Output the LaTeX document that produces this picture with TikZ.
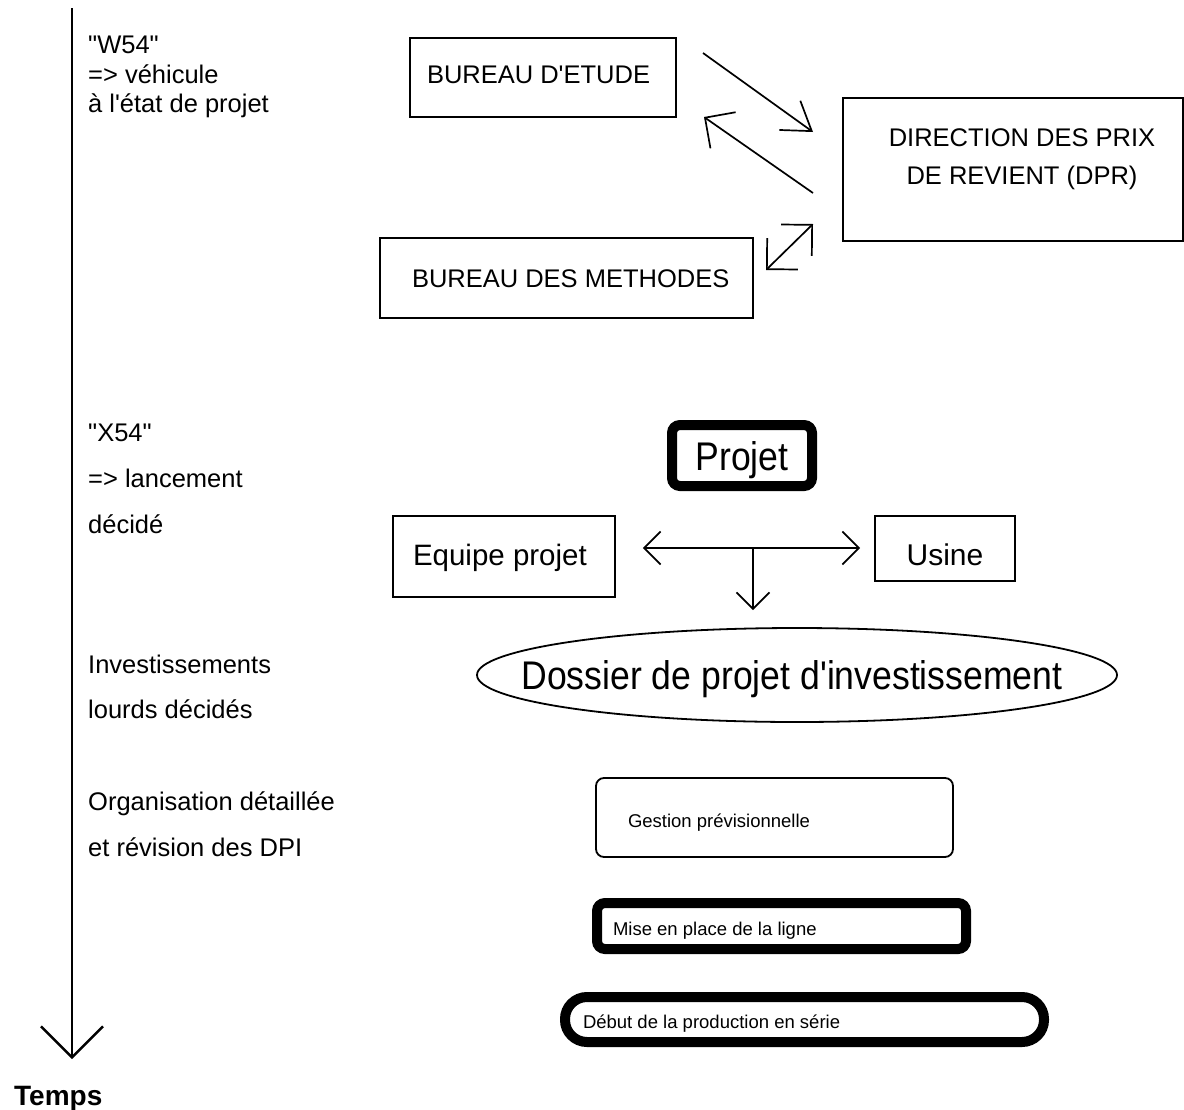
\documentclass[tikz,border=0pt]{standalone}
\usepackage{fontspec}
\setmainfont{Liberation Sans}[Ligatures=TeXOff]
\usepackage{graphicx}
\usetikzlibrary{arrows.meta,shapes.geometric,calc}
\newcommand\myfs[2]{\fontsize{#1}{#2}\selectfont}
\tikzset{
  box/.style={draw, rectangle, line width=1.8pt, inner ysep=0pt, align=flush left},
  heavybox/.style={draw, rectangle, line width=10pt, rounded corners=8pt, inner ysep=0pt, align=flush left},
  lefttext/.style={anchor=base west, inner sep=0pt, font=\myfs{25.5}{30}},
  conn/.style={line width=1.7pt},
  barbA/.style={conn, -{Straight Barb[length=27pt,width=36pt]}},
  barbB/.style={conn, -{Straight Barb[length=22pt,width=44pt]}},
  barbBB/.style={conn, {Straight Barb[length=22pt,width=44pt]}-{Straight Barb[length=22pt,width=44pt]}},
  barbS/.style={conn, -{Straight Barb[length=16.5pt,width=33pt]}},
  barbSS/.style={conn, {Straight Barb[length=16.5pt,width=33pt]}-{Straight Barb[length=16.5pt,width=33pt]}},
}
\begin{document}
\begin{tikzpicture}[x=1pt,y=-1pt]
\useasboundingbox (0,0) rectangle (1184,1109);

% time axis
\coordinate (tltop) at (72,8);
\coordinate (tlend) at (72,1059);
\draw[line width=2.4pt, -{Straight Barb[length=31pt,width=62pt]}] (tltop) -- (tlend);
\node[anchor=base west, inner sep=0pt, font=\myfs{28}{30}\bfseries] (temps) at (14,1105) {Temps};

% left texts
\node[lefttext] (w1) at (88,53) {"W54"};
\node[lefttext] (w2) at (88,83) {=> véhicule};
\node[lefttext] (w3) at (88,112) {à l'état de projet};
\node[lefttext] (x1) at (88,441) {"X54"};
\node[lefttext] (x2) at (88,487) {=> lancement};
\node[lefttext] (x3) at (88,533) {décidé};
\node[lefttext] (i1) at (88,673) {Investissements};
\node[lefttext] (i2) at (88,718) {lourds décidés};
\node[lefttext] (o1) at (88,810) {Organisation détaillée};
\node[lefttext] (o2) at (88,856) {et révision des DPI};

% top boxes
\node[box, minimum width=266, minimum height=79, inner xsep=17, text width=232,
      text height=18, text depth=7, font=\myfs{25.5}{30}] (be) at (543,77.5) {\mbox{BUREAU D'ETUDE}};
\node[box, minimum width=373, minimum height=80, inner xsep=32, text width=309,
      text height=18, text depth=0, font=\myfs{25.5}{30}] (bm) at (566.5,278) {\mbox{BUREAU DES METHODES}};
\node[box, minimum width=340, minimum height=143, align=center, text depth=25,
      font=\myfs{25.5}{38}] (dpr) at (1013,169.5)
      {\hspace*{18pt}DIRECTION DES PRIX\\\hspace*{18pt}DE REVIENT (DPR)};

\coordinate (a1s) at (703,53);
\coordinate (a1e) at (813,132);
\coordinate (a2s) at (813,193);
\coordinate (a2e) at (704,117);
\coordinate (a3s) at (766,270);
\coordinate (a3e) at (813,224);
\draw[barbA] (a1s) -- (a1e);
\draw[barbB] (a2s) -- (a2e);
\draw[barbBB] (a3s) -- (a3e);

% projet
\node[heavybox, minimum width=140, minimum height=61, inner xsep=0pt, align=center,
      text height=30, text depth=0, font=\myfs{40}{42}] (projet) at (742,455.5)
      {\scalebox{0.89}[1]{Projet}};
\node[box, minimum width=222, minimum height=81, inner xsep=20, text width=182,
      text height=21, text depth=4, font=\myfs{29.5}{32}] (equipe) at (504,556.5) {\mbox{Equipe projet}};
\node[box, minimum width=140, minimum height=65, inner xsep=0pt, align=center,
      text height=33, text depth=0, font=\myfs{30}{32}] (usine) at (945,548.5) {Usine};

\node[draw, ellipse, line width=1.8pt, minimum width=640, minimum height=94, inner sep=0pt,
      text height=28.6, text depth=0, font=\myfs{40}{42}] (dossier) at (797,675)
      {\makebox[0pt][c]{\hspace*{-10pt}\scalebox{0.89}[1]{Dossier de projet d'investissement}}};

\coordinate (hm) at (753,548);
\draw[barbSS, shorten <=27pt, shorten >=14pt] ([yshift=8.5pt]equipe.east) -- ([yshift=0.5pt]usine.west);
\draw[barbS, shorten >=17pt] (hm) -- (hm |- dossier.north);

% bottom boxes
\node[box, rounded corners=8pt, minimum width=357, minimum height=79, inner xsep=32, text width=293,
      text height=19, text depth=0, font=\myfs{18.5}{20}] (gestion) at (774.5,817.5) {\mbox{Gestion prévisionnelle}};
\node[heavybox, minimum width=369, minimum height=46, inner xsep=16, text width=337,
      text height=18, text depth=0, font=\myfs{18.5}{20}] (mise) at (781.5,926) {\mbox{Mise en place de la ligne}};
\node[heavybox, rounded corners=22pt, minimum width=479, minimum height=45, inner xsep=18, text width=443,
      text height=17, text depth=0, font=\myfs{18.5}{20}] (debut) at (804.5,1019.5) {\mbox{Début de la production en série}};
\end{tikzpicture}
\end{document}
